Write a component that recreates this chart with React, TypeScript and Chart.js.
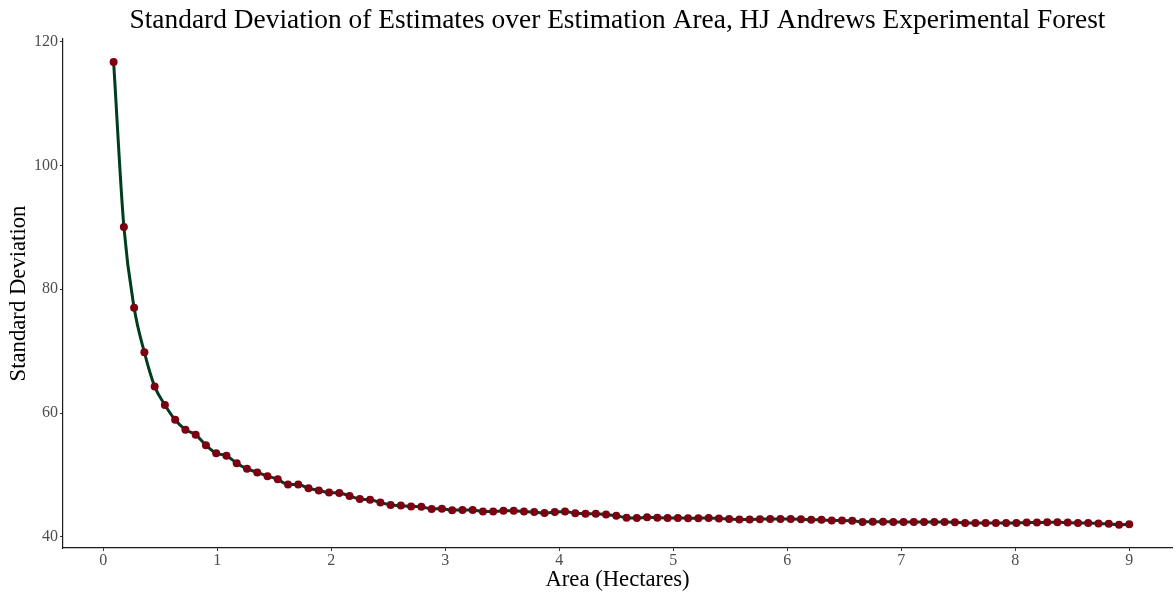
import React, { useEffect, useRef } from "react";
import { Chart, registerables } from "chart.js";

Chart.register(...registerables);

const areas = [
  0.09, 0.18, 0.27, 0.36, 0.45, 0.54, 0.63, 0.72, 0.81, 0.9,
  0.99, 1.08, 1.17, 1.26, 1.35, 1.44, 1.53, 1.62, 1.71, 1.8,
  1.89, 1.98, 2.07, 2.16, 2.25, 2.34, 2.43, 2.52, 2.61, 2.7,
  2.79, 2.88, 2.97, 3.06, 3.15, 3.24, 3.33, 3.42, 3.51, 3.6,
  3.69, 3.78, 3.87, 3.96, 4.05, 4.14, 4.23, 4.32, 4.41, 4.5,
  4.59, 4.68, 4.77, 4.86, 4.95, 5.04, 5.13, 5.22, 5.31, 5.4,
  5.49, 5.58, 5.67, 5.76, 5.85, 5.94, 6.03, 6.12, 6.21, 6.3,
  6.39, 6.48, 6.57, 6.66, 6.75, 6.84, 6.93, 7.02, 7.11, 7.2,
  7.29, 7.38, 7.47, 7.56, 7.65, 7.74, 7.83, 7.92, 8.01, 8.1,
  8.19, 8.28, 8.37, 8.46, 8.55, 8.64, 8.73, 8.82, 8.91, 9.0,
];

const stdDevs = [
  116.7, 90.05, 77.0, 69.8, 64.3, 61.3, 58.9, 57.3, 56.5, 54.8,
  53.5, 53.1, 51.9, 51.0, 50.4, 49.8, 49.3, 48.45, 48.45, 47.85,
  47.5, 47.15, 47.1, 46.6, 46.1, 46.0, 45.55, 45.16, 45.05, 44.9,
  44.85, 44.5, 44.55, 44.3, 44.35, 44.35, 44.1, 44.1, 44.2, 44.2,
  44.1, 44.0, 43.85, 44.0, 44.1, 43.8, 43.75, 43.75, 43.6, 43.4,
  43.1, 43.05, 43.15, 43.1, 43.05, 43.05, 43.0, 43.0, 43.05, 42.95,
  42.9, 42.8, 42.8, 42.85, 42.9, 42.9, 42.9, 42.85, 42.75, 42.75,
  42.65, 42.65, 42.6, 42.4, 42.45, 42.45, 42.4, 42.4, 42.4, 42.4,
  42.4, 42.4, 42.35, 42.25, 42.25, 42.25, 42.25, 42.25, 42.25, 42.3,
  42.3, 42.35, 42.35, 42.3, 42.25, 42.25, 42.15, 42.1, 41.95, 42.05,
];

const xTicks = [0, 1, 2, 3, 4, 5, 6, 7, 8, 9];
const yTicks = [40, 60, 80, 100, 120];

const titleText =
  "Standard Deviation of Estimates over Estimation Area, HJ Andrews Experimental Forest";
const xTitle = "Area (Hectares)";
const yTitle = "Standard Deviation";

const SERIF = "'Liberation Serif', 'DejaVu Serif', serif";

export default function App() {
  const ref = useRef<HTMLCanvasElement | null>(null);

  useEffect(() => {
    if (!ref.current) return;
    const points = areas.map((a, i) => ({ x: a, y: stdDevs[i] }));
    const chart = new Chart(ref.current, {
      type: "scatter",
      data: {
        datasets: [
          {
            data: points,
            showLine: true,
            borderColor: "#003d1f",
            borderWidth: 3,
            cubicInterpolationMode: "monotone",
            pointRadius: 4,
            pointHoverRadius: 4,
            pointBackgroundColor: "#7d0012",
            pointBorderWidth: 0,
            clip: false,
          } as any,
        ],
      },
      options: {
        animation: false,
        responsive: false,
        maintainAspectRatio: false,
        layout: { padding: 0 },
        plugins: {
          legend: { display: false },
          tooltip: { enabled: false },
          title: {
            display: true,
            text: titleText,
            fullSize: false,
            color: "#000000",
            font: { family: SERIF, size: 27.4, weight: "normal", lineHeight: 1.2 },
            padding: { top: 4, bottom: 2.1 },
          },
        },
        scales: {
          x: {
            type: "linear",
            min: -0.354,
            max: 9.375,
            afterBuildTicks: (s: any) => {
              s.ticks = xTicks.map((v) => ({ value: v }));
            },
            afterFit: (s: any) => {
              s.height = 44;
              s.paddingLeft = 0;
              s.paddingRight = 0;
            },
            ticks: {
              color: "#4d4d4d",
              font: { family: SERIF, size: 16 },
              padding: 0,
              maxRotation: 0,
              autoSkip: false,
            },
            grid: {
              drawOnChartArea: false,
              drawTicks: true,
              tickLength: 3,
              color: "#333333",
            },
            border: { display: true, color: "#1a1a1a", width: 1.2 },
            title: {
              display: true,
              text: xTitle,
              color: "#000000",
              font: { family: SERIF, size: 22.7, lineHeight: 1.0 },
              padding: { top: 0, bottom: 1 },
            },
          },
          y: {
            type: "linear",
            min: 38.2,
            max: 120.4,
            afterBuildTicks: (s: any) => {
              s.ticks = yTicks.map((v) => ({ value: v }));
            },
            afterFit: (s: any) => {
              s.width = 63;
              s.paddingTop = 0;
              s.paddingBottom = 0;
            },
            ticks: {
              color: "#4d4d4d",
              font: { family: SERIF, size: 16 },
              padding: 2,
              autoSkip: false,
            },
            grid: {
              drawOnChartArea: false,
              drawTicks: true,
              tickLength: 3,
              color: "#333333",
            },
            border: { display: true, color: "#1a1a1a", width: 1.2 },
            title: {
              display: true,
              text: yTitle,
              color: "#000000",
              font: { family: SERIF, size: 22.7, lineHeight: 1.0 },
              padding: { top: 8, bottom: 0 },
            },
          },
        },
      },
    });
    return () => chart.destroy();
  }, []);

  return (
    <div style={{ position: "fixed", left: 0, top: 0, width: 1176, height: 592, background: "#ffffff" }}>
      <canvas ref={ref} width={1176} height={592} style={{ display: "block" }} />
    </div>
  );
}
